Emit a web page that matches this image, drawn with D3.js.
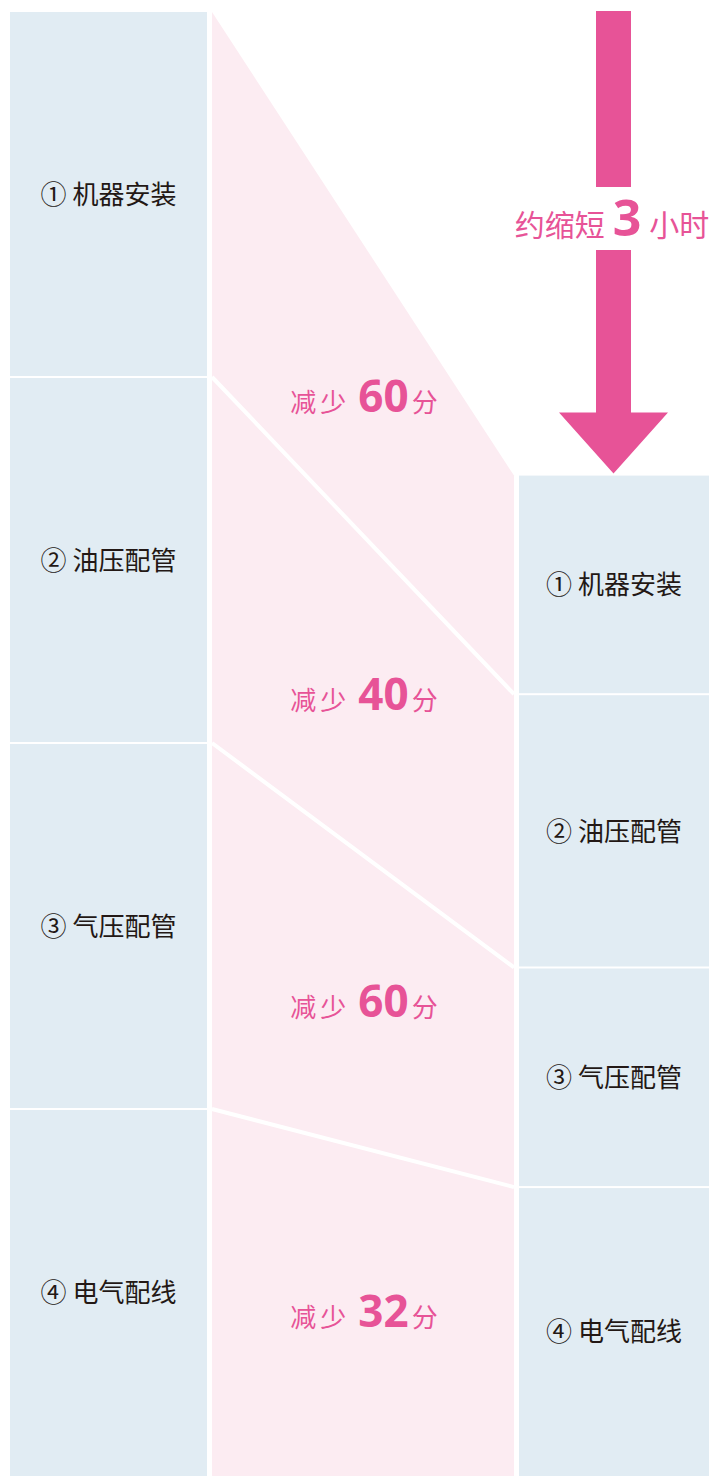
<!DOCTYPE html>
<html>
<head>
<meta charset="utf-8">
<script src="https://cdn.jsdelivr.net/npm/d3@7"></script>
<style>
  html, body { margin: 0; padding: 0; background: #fff; }
  svg { display: block; }
</style>
</head>
<body>
<svg id="svgcanvas" width="709" height="1476"></svg>
<script>

/****************************************************************************
 *  data
 ****************************************************************************/
var steps     = ['① 机器安装', '② 油压配管', '③ 气压配管', '④ 电气配线'];
var beforeMin = [150, 150, 150, 150];
var afterMin  = [90, 112, 90, 118];
var savedMin  = [60, 40, 60, 32];
var totalText = ['约缩短', '3', '小时'];

/****************************************************************************
 *  layout
 ****************************************************************************/
var W = 709, H = 1476;
var TOP = 12;
var leftX = [10, 207];
var midX = [212, 514];
var rightX = [519, 709];
var GAP = 2;

var BLUE = '#e1ecf3';
var PINK = '#fcecf2';
var MAGENTA = '#e75397';
var INK = '#231815';
var CJK = '"Noto Sans CJK SC", "Noto Sans", sans-serif';
var NUM = '"Open Sans", "Noto Sans", sans-serif';

var svg = d3.select('#svgcanvas');

var total = d3.sum(beforeMin);
var y = d3.scaleLinear().domain([0, total]).range([TOP, H]);

// right column is pushed down by the time saved
var offset = total - d3.sum(afterMin);

function cumulate(arr) {
  var out = [0];
  arr.forEach(function(v, i) { out.push(out[i] + v); });
  return out;
}
var cumL = cumulate(beforeMin);
var cumR = cumulate(afterMin).map(function(v) { return v + offset; });

var leftBlocks = steps.map(function(s, i) {
  return { label: s, y0: y(cumL[i]), y1: y(cumL[i + 1]) };
});
var rightBlocks = steps.map(function(s, i) {
  return { label: s, y0: y(cumR[i]), y1: y(cumR[i + 1]) };
});

/****************************************************************************
 *  pink band
 ****************************************************************************/
var rightTop = rightBlocks[0].y0;
svg.append('path')
  .attr('d', d3.line()([
    [midX[0], TOP], [midX[1], rightTop], [midX[1], H], [midX[0], H]
  ]))
  .attr('fill', PINK);

// white dividers joining the old and new boundaries
var dividers = d3.range(1, steps.length).map(function(i) {
  return [[midX[0], leftBlocks[i].y0 - GAP / 2], [midX[1], rightBlocks[i].y0 - GAP / 2]];
});
svg.append('g').selectAll('path')
  .data(dividers)
  .enter().append('path')
  .attr('d', function(d) { return d3.line()(d); })
  .attr('stroke', '#fff')
  .attr('stroke-width', 4)
  .attr('fill', 'none');

/****************************************************************************
 *  blocks
 ****************************************************************************/
function drawColumn(blocks, xr) {
  var g = svg.append('g');
  g.selectAll('rect')
    .data(blocks)
    .enter().append('rect')
    .attr('x', xr[0])
    .attr('y', function(d) { return d.y0; })
    .attr('width', xr[1] - xr[0])
    .attr('height', function(d, i) {
      return d.y1 - d.y0 - (i < blocks.length - 1 ? GAP : 0);
    })
    .attr('fill', BLUE);

  g.selectAll('text')
    .data(blocks)
    .enter().append('text')
    .attr('x', (xr[0] + xr[1]) / 2)
    .attr('y', function(d) { return (d.y0 + d.y1) / 2 + 9; })
    .attr('text-anchor', 'middle')
    .attr('font-family', CJK)
    .attr('font-size', 26)
    .attr('fill', INK)
    .text(function(d) { return d.label; });
}
drawColumn(leftBlocks, leftX);
drawColumn(rightBlocks, rightX);

/****************************************************************************
 *  "减少 xx分" labels
 ****************************************************************************/
var cx = (midX[0] + midX[1]) / 2;
var tMid = (cx - midX[0]) / (midX[1] - midX[0]);

function edgeY(i) {
  // y of boundary i at the middle of the band
  if (i === steps.length) return H;
  var a = (i === 0) ? TOP : leftBlocks[i].y0;
  var b = rightBlocks[i].y0;
  return a + (b - a) * tMid;
}

var saved = savedMin.map(function(v, i) {
  return { val: v, y: (edgeY(i) + edgeY(i + 1)) / 2 };
});

var st = svg.append('g').selectAll('text')
  .data(saved)
  .enter().append('text')
  .attr('x', cx + 1)
  .attr('y', function(d, i) { return d.y + 14 + (i === 0 ? 8 : 0); })
  .attr('text-anchor', 'middle')
  .attr('fill', MAGENTA)
  .attr('font-family', CJK);

st.append('tspan').attr('font-size', 26).attr('letter-spacing', 4).text('减少');
st.append('tspan').attr('dx', 8).attr('font-size', 44).attr('font-weight', 'bold')
  .attr('font-family', NUM).text(function(d) { return d.val; });
st.append('tspan').attr('dx', 3).attr('font-size', 26).text('分');

/****************************************************************************
 *  arrow
 ****************************************************************************/
var ax = 613.5, shaftHalf = 17.5, headHalf = 54.5;
var tipY = rightTop - 2;
var headBase = tipY - 61;
var textY = 220;

svg.append('rect')
  .attr('x', ax - shaftHalf).attr('y', 11)
  .attr('width', shaftHalf * 2).attr('height', textY - 33 - 11)
  .attr('fill', MAGENTA);
svg.append('path')
  .attr('d', d3.line()([
    [ax - shaftHalf, textY + 30], [ax + shaftHalf, textY + 30],
    [ax + shaftHalf, headBase], [ax + headHalf, headBase],
    [ax, tipY], [ax - headHalf, headBase], [ax - shaftHalf, headBase]
  ]))
  .attr('fill', MAGENTA);

var tt = svg.append('text')
  .attr('x', 612)
  .attr('y', textY + 16)
  .attr('text-anchor', 'middle')
  .attr('fill', MAGENTA)
  .attr('font-family', CJK);
tt.append('tspan').attr('font-size', 30).text(totalText[0]);
tt.append('tspan').attr('dx', 8).attr('font-size', 50).attr('font-weight', 'bold')
  .attr('font-family', NUM).text(totalText[1]);
tt.append('tspan').attr('dx', 8).attr('font-size', 30).text(totalText[2]);

</script>
</body>
</html>
